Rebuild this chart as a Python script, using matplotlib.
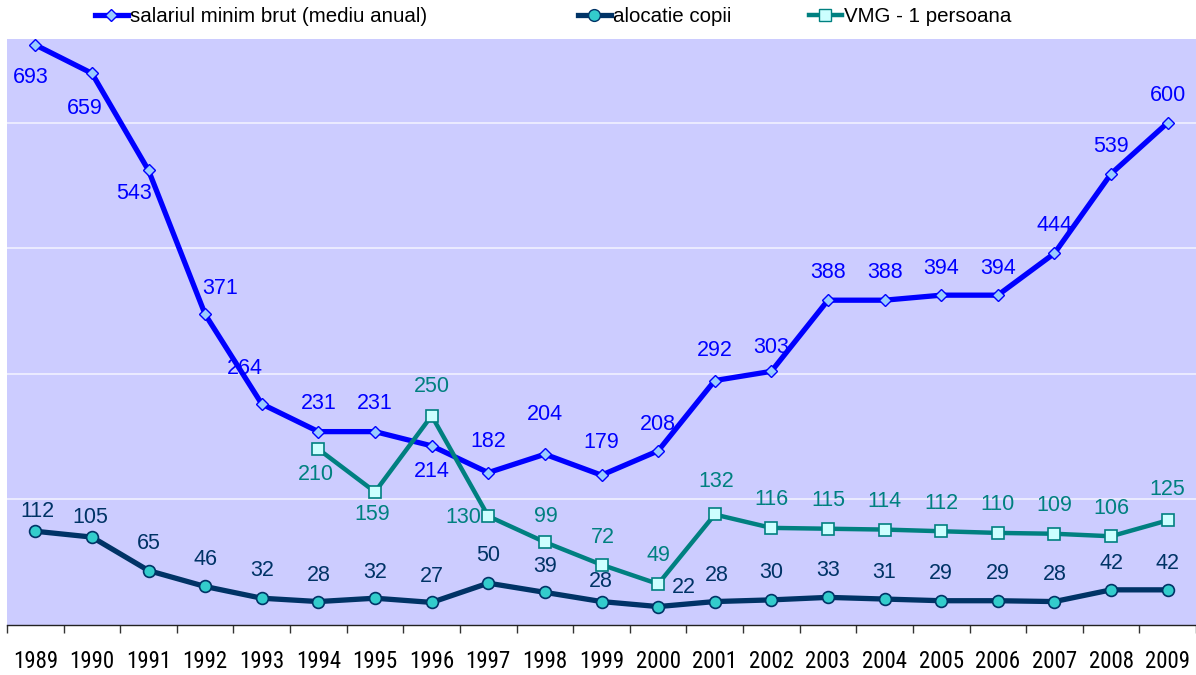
import matplotlib
matplotlib.use("Agg")
import matplotlib.pyplot as plt
from matplotlib.lines import Line2D
from matplotlib import font_manager
import numpy as np

years = ["1989", "1990", "1991", "1992", "1993", "1994", "1995", "1996", "1997", "1998",
         "1999", "2000", "2001", "2002", "2003", "2004", "2005", "2006", "2007", "2008", "2009"]
salariu = [693, 659, 543, 371, 264, 231, 231, 214, 182, 204, 179, 208, 292, 303, 388, 388,
           394, 394, 444, 539, 600]
alocatie = [112, 105, 65, 46, 32, 28, 32, 27, 50, 39, 28, 22, 28, 30, 33, 31, 29, 29, 28, 42, 42]
vmg_years = ["1994", "1995", "1996", "1997", "1998", "1999", "2000", "2001", "2002", "2003",
             "2004", "2005", "2006", "2007", "2008", "2009"]
vmg = [210, 159, 250, 130, 99, 72, 49, 132, 116, 115, 114, 112, 110, 109, 106, 125]

# label offsets in pixels (dx, dy), dy positive = down
sal_off = [(-5, 33), (-7, 35), (-15, 23), (15, -26), (-17, -35), (0, -28), (0, -28), (0, 26),
           (0, -31), (0, -40), (0, -33), (0, -26), (0, -30), (0, -24), (0, -28), (0, -28),
           (0, -27), (0, -27), (0, -28), (0, -27), (0, -27)]
alo_off = [(2, -20), (-2, -20), (0, -27), (0, -27), (0, -28), (0, -26), (0, -26), (0, -26),
           (0, -28), (0, -26), (-1, -20), (26, -19), (2, -26), (0, -27), (0, -27), (0, -27),
           (0, -27), (0, -27), (0, -27), (0, -26), (0, -26)]
vmg_off = [(-3, 25), (-3, 23), (0, -29), (-25, 1), (1, -26), (1, -27), (0, -28), (2, -33),
           (0, -28), (0, -28), (0, -28), (0, -28), (0, -28), (0, -28), (0, -28), (0, -31)]

C_SAL = "#0000FF"
C_ALO = "#003366"
C_VMG = "#008080"

avail = {f.name for f in font_manager.fontManager.ttflist}
if "DejaVu Sans Condensed" in avail:
    MAIN = "DejaVu Sans Condensed"
else:
    MAIN = "Liberation Sans"
fs = 15.5
leg_fs = 14.8
NARROW = None
for cand in ["Liberation Sans Narrow", "Roboto Condensed", "Open Sans Condensed",
             "Noto Sans Condensed"]:
    if cand in avail:
        NARROW = cand
        break
if NARROW is None:
    NARROW = "Liberation Sans"
    tick_fs = 13.5
else:
    tick_fs = 16.5

W, H = 1196, 675
fig = plt.figure(figsize=(W / 100, H / 100), dpi=100)
ax = fig.add_axes([7 / W, (H - 625) / H, 1 - 7 / W, (625 - 39) / H])
ax.set_facecolor("#CCCCFF")

x_all = np.arange(len(years))
x_vmg = np.array([years.index(y) for y in vmg_years])

ax.set_xlim(-0.5, len(years) - 0.5)
ax.set_ylim(0, 700)
ax.set_yticks([150, 300, 450, 600])
ax.yaxis.grid(True, color="#EEEEFF", lw=1.3)
ax.set_axisbelow(True)
ax.tick_params(axis="y", length=0, labelleft=False)

ax.plot(x_all, salariu, color=C_SAL, lw=3.8, marker="D", ms=6.5, mfc="#99CCFF", mec=C_SAL,
        mew=1.0, zorder=3)
ax.plot(x_vmg, vmg, color=C_VMG, lw=3.2, marker="s", ms=8, mfc="#CCFFFF", mec=C_VMG,
        mew=1.2, zorder=4)
ax.plot(x_all, alocatie, color=C_ALO, lw=3.8, marker="o", ms=8.5, mfc="#33CCCC", mec=C_ALO,
        mew=1.2, zorder=5)

def labels(xs, vals, offs, color):
    for xi, v, (dx, dy) in zip(xs, vals, offs):
        ax.annotate(str(v), (xi, v), xytext=(dx * 0.72, -dy * 0.72), textcoords="offset points",
                    ha="center", va="center", fontsize=fs, color=color, zorder=6,
                    family=[MAIN, "DejaVu Sans"])

labels(x_all, salariu, sal_off, C_SAL)
labels(x_all, alocatie, alo_off, C_ALO)
labels(x_vmg, vmg, vmg_off, C_VMG)

# x axis: tick marks at category boundaries, labels at centers
ax.set_xticks(np.arange(-0.5, len(years), 1.0))
ax.set_xticklabels([])
ax.tick_params(axis="x", which="major", length=6, width=1, color="#333333", direction="out")
ax.set_xticks(x_all, minor=True)
ax.set_xticklabels(years, minor=True, fontsize=tick_fs, family=[NARROW, "DejaVu Sans"])
ax.tick_params(axis="x", which="minor", length=0, pad=18)
for s in ["top", "right", "left"]:
    ax.spines[s].set_visible(False)
ax.spines["bottom"].set_color("#222222")
ax.spines["bottom"].set_linewidth(1.0)

# legend
handles = [
    (Line2D([], [], color=C_SAL, lw=3.8, marker="D", ms=6.5, mfc="#99CCFF", mec=C_SAL),
     "salariul minim brut (mediu anual)", 95),
    (Line2D([], [], color=C_ALO, lw=3.8, marker="o", ms=8.5, mfc="#33CCCC", mec=C_ALO),
     "alocatie copii", 578),
    (Line2D([], [], color=C_VMG, lw=3.2, marker="s", ms=8, mfc="#CCFFFF", mec=C_VMG),
     "VMG - 1 persoana", 809),
]
for h, lab, px in handles:
    fig.legend([h], [lab], loc="center left", bbox_to_anchor=(px / W, (H - 17) / H),
               frameon=False, handlelength=1.6, handletextpad=0.1,
               borderpad=0, borderaxespad=0,
               prop={"family": [MAIN, "DejaVu Sans"], "size": leg_fs})

fig.savefig("out.png", dpi=100)
